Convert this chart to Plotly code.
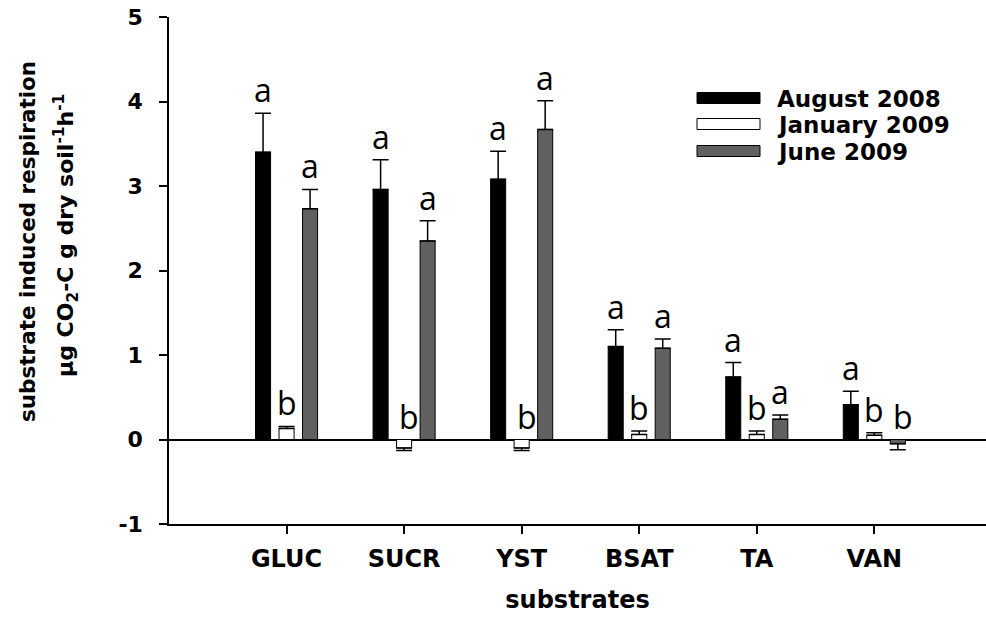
import plotly.graph_objects as go

# ---------------- data ----------------
categories = ["GLUC", "SUCR", "YST", "BSAT", "TA", "VAN"]
series_names = ["August 2008", "January 2009", "June 2009"]

aug_2008 = [3.40, 2.96, 3.08, 1.10, 0.74, 0.41]
aug_2008_err = [0.46, 0.35, 0.33, 0.20, 0.17, 0.16]
jan_2009 = [0.13, -0.10, -0.10, 0.06, 0.06, 0.05]
jan_2009_err = [0.025, 0.03, 0.03, 0.04, 0.04, 0.03]
jun_2009 = [2.73, 2.35, 3.67, 1.08, 0.24, -0.05]
jun_2009_err = [0.23, 0.24, 0.34, 0.11, 0.05, 0.07]

aug_letters = ["a", "a", "a", "a", "a", "a"]
jan_letters = ["b", "b", "b", "b", "b", "b"]
jun_letters = ["a", "a", "a", "a", "a", "b"]

y_ticks = [-1, 0, 1, 2, 3, 4, 5]
y_tick_labels = ["-1", "0", "1", "2", "3", "4", "5"]

# ---------------- style ----------------
W, H = 986, 623
ML, MR, MT, MB = 169, 0, 17, 99
PW, PH = W - ML - MR, H - MT - MB
XR = [-1.0, 5.95]
YR = [-1, 5]
BARGAP = 0.4
GROUPGAP = 0.36
fill_colors = ["#000000", "#ffffff", "#606060"]
FONT = "DejaVu Sans"
LETTER_FONT = "Open Sans"

values = [aug_2008, jan_2009, jun_2009]
errors = [aug_2008_err, jan_2009_err, jun_2009_err]
letters = [aug_letters, jan_letters, jun_letters]

fig = go.Figure()
for name, vals, errs, col in zip(series_names, values, errors, fill_colors):
    plus = [e if v >= 0 else 0 for v, e in zip(vals, errs)]
    minus = [e if v < 0 else 0 for v, e in zip(vals, errs)]
    fig.add_trace(go.Bar(
        x=categories, y=vals, name=name,
        marker=dict(color=col, line=dict(color="#000000", width=1)),
        error_y=dict(type="data", symmetric=False, array=plus, arrayminus=minus,
                     color="#000000", thickness=1.5, width=8),
        showlegend=False,
    ))

# significance letters
px_per_unit = PW / (XR[1] - XR[0])
slot_px = px_per_unit * (1 - BARGAP) / len(series_names)
for j, (vals, errs, lets) in enumerate(zip(values, errors, letters)):
    for i, cat in enumerate(categories):
        top = max(vals[i] + errs[i], 0) if vals[i] >= 0 else 0
        fig.add_annotation(
            x=cat, y=top, xref="x", yref="y",
            text=lets[i], showarrow=False,
            xanchor="center", yanchor="bottom",
            xshift=(j - 1) * slot_px + (5 if vals[i] < 0 else 0), yshift=0,
            font=dict(family=LETTER_FONT, size=32, color="#000000"),
        )

# custom legend
def px2paper(px, py):
    return (px - ML) / PW, (H - MB - py) / PH

leg_x0, leg_x1 = 697, 760
leg_rows = [98, 124, 151]
for name, col, cy in zip(series_names, fill_colors, leg_rows):
    x0, y0 = px2paper(leg_x0, cy - 5.5)
    x1, y1 = px2paper(leg_x1, cy + 5.5)
    fig.add_shape(type="rect", xref="paper", yref="paper",
                  x0=x0, x1=x1, y0=y1, y1=y0,
                  fillcolor=col, line=dict(color="#000000", width=1))
    tx, ty = px2paper(775, cy + 1)
    fig.add_annotation(x=tx, y=ty, xref="paper", yref="paper", text=name,
                       showarrow=False, xanchor="left", yanchor="middle",
                       font=dict(family=FONT, size=23, color="#000000", weight="bold"))

# y axis title (two lines)
ttl1_x, ttl1_y = px2paper(27, 242)
ttl2_x, ttl2_y = px2paper(66, 236)
fig.add_annotation(x=ttl1_x, y=ttl1_y, xref="paper", yref="paper",
                   text="substrate induced respiration", textangle=-90,
                   showarrow=False, xanchor="center", yanchor="middle",
                   font=dict(family=FONT, size=21.5, color="#000000", weight="bold"))
fig.add_annotation(x=ttl2_x, y=ttl2_y, xref="paper", yref="paper",
                   text="µg CO<sub>2</sub>-C g dry soil<sup>-1</sup>h<sup>-1</sup>",
                   textangle=-90, showarrow=False, xanchor="center", yanchor="middle",
                   font=dict(family=FONT, size=22, color="#000000", weight="bold"))

fig.update_layout(
    width=W, height=H,
    margin=dict(l=ML, r=MR, t=MT, b=MB, pad=0),
    paper_bgcolor="#ffffff", plot_bgcolor="#ffffff",
    barmode="group", bargap=BARGAP, bargroupgap=GROUPGAP,
    font=dict(family=FONT, color="#000000"),
    xaxis=dict(
        range=XR, showgrid=False, zeroline=False,
        showline=True, linecolor="#000000", linewidth=1.5,
        ticks="outside", ticklen=8, tickwidth=1.5, tickcolor="#000000",
        tickfont=dict(family=FONT, size=24, color="#000000", weight="bold"),
        ticklabelstandoff=4,
        title=dict(text="substrates", standoff=20,
                   font=dict(family=FONT, size=24, color="#000000", weight="bold")),
    ),
    yaxis=dict(
        range=YR, tickvals=y_ticks, ticktext=y_tick_labels, showgrid=False,
        zeroline=True, zerolinecolor="#000000", zerolinewidth=1.5,
        showline=True, linecolor="#000000", linewidth=1.5,
        ticks="outside", ticklen=8, tickwidth=1.5, tickcolor="#000000",
        tickfont=dict(family=FONT, size=22, color="#000000", weight="bold"),
        ticklabelstandoff=12,
    ),
)

fig.write_html("out.html")
